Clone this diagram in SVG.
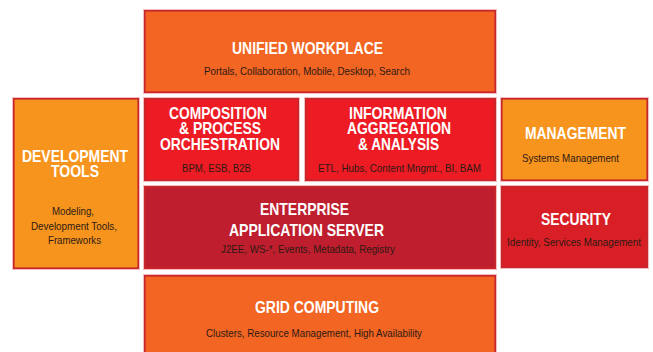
<svg xmlns="http://www.w3.org/2000/svg" width="653" height="352" viewBox="0 0 653 352">
<style>
.box{stroke:#C8262D;stroke-width:1.6}
.halo{fill:none;stroke:#F5BDBE;stroke-width:1}
.t{font-family:"Liberation Sans Narrow","Arial Narrow","Liberation Sans",sans-serif;font-weight:bold;font-size:17px;fill:#FFFFFF;text-anchor:middle}
.s{font-family:"Liberation Sans Narrow","Arial Narrow","Liberation Sans",sans-serif;font-size:11px;fill:#2E1A14;text-anchor:middle}
.orange{fill:#F26522}
.red{fill:#ED1C24}
.amber{fill:#F7941D}
.dark{fill:#BE1E2D}
.sec{fill:#D91F26}
</style>
<rect width="653" height="352" fill="#FFFFFF"/>
<g id="unified-workplace">
<rect class="halo" x="143.5" y="9.5" width="353" height="84"/>
<rect class="box orange" x="144.8" y="10.8" width="350.4" height="81.4"/>
<text class="t" x="307.5" y="54" textLength="151" lengthAdjust="spacingAndGlyphs">UNIFIED WORKPLACE</text>
<text class="s" x="307" y="75" textLength="206" lengthAdjust="spacingAndGlyphs">Portals, Collaboration, Mobile, Desktop, Search</text>
</g>
<g id="development-tools">
<rect class="halo" x="12.5" y="97.5" width="127" height="172"/>
<rect class="box amber" x="13.8" y="98.8" width="124.4" height="169.4"/>
<text class="t" x="75" y="162" textLength="106" lengthAdjust="spacingAndGlyphs">DEVELOPMENT</text>
<text class="t" x="75" y="177" textLength="48" lengthAdjust="spacingAndGlyphs">TOOLS</text>
<text class="s" x="73" y="215" textLength="42" lengthAdjust="spacingAndGlyphs">Modeling,</text>
<text class="s" x="74" y="230" textLength="86" lengthAdjust="spacingAndGlyphs">Development Tools,</text>
<text class="s" x="74.5" y="244" textLength="53" lengthAdjust="spacingAndGlyphs">Frameworks</text>
</g>
<g id="composition">
<rect class="halo" x="143.5" y="97.5" width="156" height="84"/>
<rect class="box red" x="144.8" y="98.8" width="153.4" height="81.4"/>
<text class="t" x="218" y="119" textLength="98" lengthAdjust="spacingAndGlyphs">COMPOSITION</text>
<text class="t" x="220" y="134" textLength="82" lengthAdjust="spacingAndGlyphs">&amp; PROCESS</text>
<text class="t" x="220" y="149.5" textLength="120" lengthAdjust="spacingAndGlyphs">ORCHESTRATION</text>
<text class="s" x="216.5" y="172" textLength="69" lengthAdjust="spacingAndGlyphs">BPM, ESB, B2B</text>
</g>
<g id="information-aggregation">
<rect class="halo" x="304.5" y="97.5" width="192" height="84"/>
<rect class="box red" x="305.8" y="98.8" width="189.4" height="81.4"/>
<text class="t" x="398" y="119" textLength="98" lengthAdjust="spacingAndGlyphs">INFORMATION</text>
<text class="t" x="399" y="134" textLength="104" lengthAdjust="spacingAndGlyphs">AGGREGATION</text>
<text class="t" x="398.5" y="149.5" textLength="81" lengthAdjust="spacingAndGlyphs">&amp; ANALYSIS</text>
<text class="s" x="399.5" y="172" textLength="163" lengthAdjust="spacingAndGlyphs">ETL, Hubs, Content Mngmt., BI, BAM</text>
</g>
<g id="management">
<rect class="halo" x="500.5" y="97.5" width="148" height="84"/>
<rect class="box amber" x="501.8" y="98.8" width="145.4" height="81.4"/>
<text class="t" x="575.5" y="139" textLength="101" lengthAdjust="spacingAndGlyphs">MANAGEMENT</text>
<text class="s" x="570.5" y="161.5" textLength="97" lengthAdjust="spacingAndGlyphs">Systems Management</text>
</g>
<g id="enterprise-application-server">
<rect class="halo" x="143.5" y="185.5" width="353" height="84"/>
<rect class="box dark" x="144.8" y="186.8" width="350.4" height="81.4"/>
<text class="t" x="304.5" y="215" textLength="89" lengthAdjust="spacingAndGlyphs">ENTERPRISE</text>
<text class="t" x="306.5" y="236" textLength="155" lengthAdjust="spacingAndGlyphs">APPLICATION SERVER</text>
<text class="s" x="308" y="253" textLength="174" lengthAdjust="spacingAndGlyphs">J2EE, WS-*, Events, Metadata, Registry</text>
</g>
<g id="security">
<rect class="halo" x="500.5" y="185.5" width="148" height="83"/>
<rect class="box sec" x="501.8" y="186.8" width="145.4" height="80.4"/>
<text class="t" x="576" y="225" textLength="70" lengthAdjust="spacingAndGlyphs">SECURITY</text>
<text class="s" x="574" y="246" textLength="134" lengthAdjust="spacingAndGlyphs">Identity, Services Management</text>
</g>
<g id="grid-computing">
<rect class="halo" x="143.5" y="274.5" width="353" height="90"/>
<rect class="box orange" x="144.8" y="275.8" width="350.4" height="87.4"/>
<text class="t" x="317" y="313" textLength="124" lengthAdjust="spacingAndGlyphs">GRID COMPUTING</text>
<text class="s" x="314" y="337" textLength="216" lengthAdjust="spacingAndGlyphs">Clusters, Resource Management, High Availability</text>
</g>
<g id="connectors"/>
</svg>
